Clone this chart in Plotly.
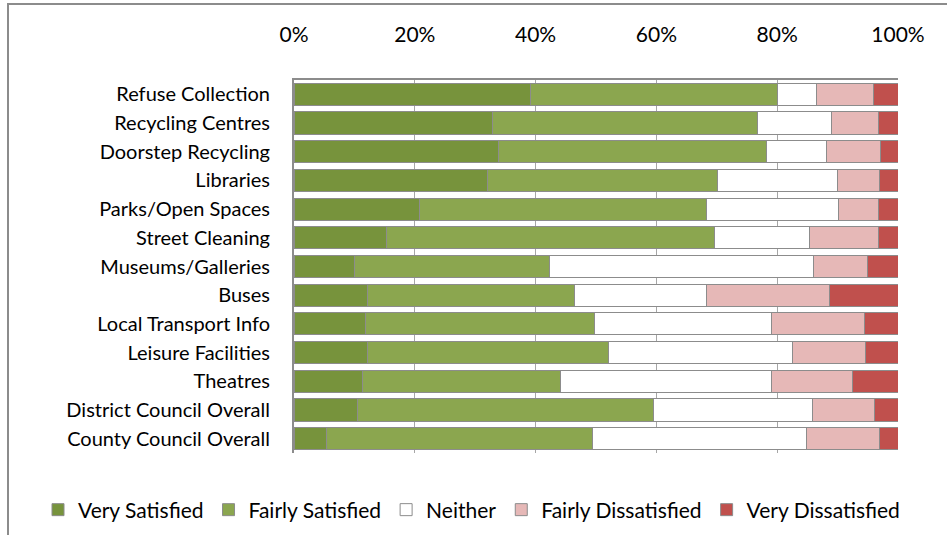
import plotly.graph_objects as go

categories = ["Refuse Collection", "Recycling Centres", "Doorstep Recycling", "Libraries",
              "Parks/Open Spaces", "Street Cleaning", "Museums/Galleries", "Buses",
              "Local Transport Info", "Leisure Facilities", "Theatres",
              "District Council Overall", "County Council Overall"]

very_satisfied = [39.1, 32.9, 33.9, 32.1, 20.7, 15.3, 10.0, 12.1, 11.8, 12.1, 11.3, 10.5, 5.4]
fairly_satisfied = [40.9, 43.8, 44.3, 38.0, 47.6, 54.4, 32.3, 34.4, 38.0, 39.9, 32.9, 49.1, 44.1]
neither = [6.5, 12.3, 10.0, 19.8, 21.9, 15.6, 43.7, 21.8, 29.3, 30.6, 34.9, 26.3, 35.3]
fairly_dissatisfied = [9.4, 7.7, 8.9, 7.0, 6.6, 11.4, 8.9, 20.4, 15.3, 12.1, 13.4, 10.2, 12.1]
very_dissatisfied = [4.1, 3.3, 2.9, 3.1, 3.2, 3.3, 5.1, 11.3, 5.6, 5.3, 7.5, 3.9, 3.1]

series_names = ["Very Satisfied", "Fairly Satisfied", "Neither", "Fairly Dissatisfied", "Very Dissatisfied"]
series_values = [very_satisfied, fairly_satisfied, neither, fairly_dissatisfied, very_dissatisfied]
series_colors = ["#77933C", "#8BA64F", "#FFFFFF", "#E6B8B7", "#C0504D"]

tick_vals = [0, 20, 40, 60, 80, 100]
tick_text = ["0%", "20%", "40%", "60%", "80%", "100%"]

FONT = "Lato"
W, H = 947, 535
L, R, T, B = 294, 49, 80, 82

fig = go.Figure()
for name, vals, col in zip(series_names, series_values, series_colors):
    fig.add_trace(go.Bar(
        y=categories, x=vals, name=name, orientation="h",
        marker=dict(color=col, line=dict(color="#8C8C8C", width=1)),
    ))

pw = W - L - R
ph = H - T - B
fig.add_shape(type="rect", xref="paper", yref="paper",
              x0=(8 - L) / pw, x1=(W + 10 - L) / pw,
              y0=(H - B - (H + 10)) / ph, y1=(H - B - 4) / ph,
              line=dict(color="#8C8C8C", width=2), fillcolor="rgba(0,0,0,0)", layer="below")

fig.update_layout(
    width=W, height=H,
    margin=dict(l=L, r=R, t=T, b=B, autoexpand=False),
    barmode="stack", bargap=0.23,
    plot_bgcolor="white", paper_bgcolor="white",
    font=dict(family=FONT, size=20, color="#000000"),
    showlegend=True,
    legend=dict(orientation="h", xref="paper", yref="paper",
                x=(38 - L) / pw, xanchor="left", y=(H - B - 510) / ph, yanchor="middle",
                font=dict(family=FONT, size=21), itemwidth=30, traceorder="normal"),
    xaxis=dict(side="top", range=[0, 100], tickvals=tick_vals, ticktext=tick_text,
               showgrid=True, gridcolor="#A6A6A6", gridwidth=1,
               showline=True, linecolor="#8C8C8C", linewidth=2,
               zeroline=False, ticks="", ticklabelstandoff=28,
               tickfont=dict(family=FONT, size=21)),
    yaxis=dict(autorange="reversed", showline=True, linecolor="#8C8C8C", linewidth=2,
               showgrid=False, ticks="", ticklabelstandoff=18,
               tickfont=dict(family=FONT, size=20)),
)

fig.write_html("out.html", config={"displayModeBar": False},
               post_script="document.body.style.margin='0';document.body.style.overflow='hidden';")
